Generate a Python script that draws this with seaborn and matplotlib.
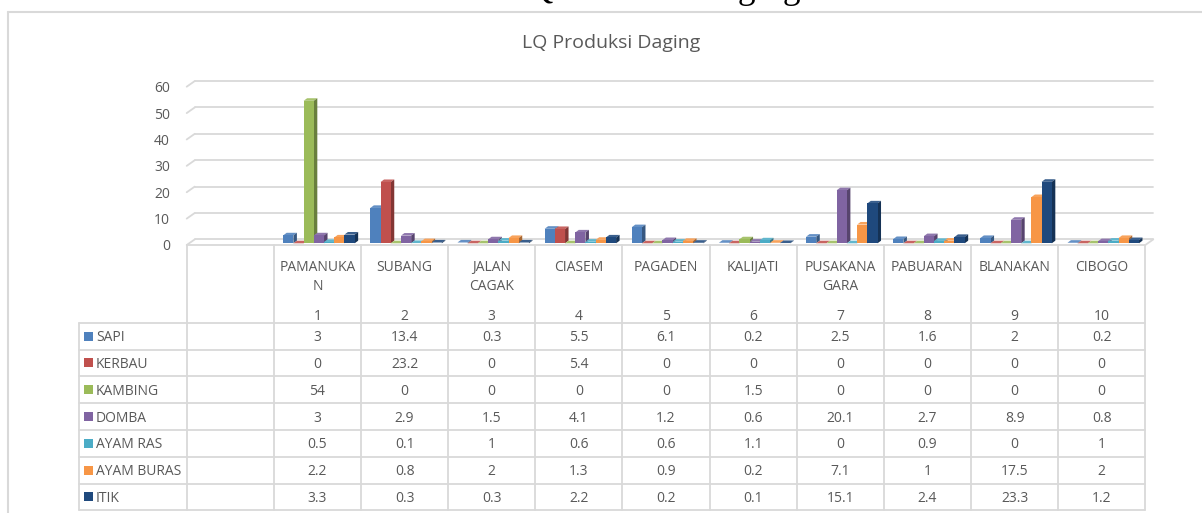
import numpy as np
import pandas as pd
import matplotlib
matplotlib.use("Agg")
import matplotlib.pyplot as plt
import seaborn as sns
from matplotlib import transforms as mtransforms
from matplotlib.patches import Polygon, Rectangle

# ---------------- data ----------------
districts = ["PAMANUKAN", "SUBANG", "JALAN CAGAK", "CIASEM", "PAGADEN",
             "KALIJATI", "PUSAKANAGARA", "PABUARAN", "BLANAKAN", "CIBOGO"]
header_labels = ["PAMANUKA\nN", "SUBANG", "JALAN\nCAGAK", "CIASEM", "PAGADEN",
                 "KALIJATI", "PUSAKANA\nGARA", "PABUARAN", "BLANAKAN", "CIBOGO"]
district_numbers = ["1", "2", "3", "4", "5", "6", "7", "8", "9", "10"]

series = ["SAPI", "KERBAU", "KAMBING", "DOMBA", "AYAM RAS", "AYAM BURAS", "ITIK"]
sapi = [3, 13.4, 0.3, 5.5, 6.1, 0.2, 2.5, 1.6, 2, 0.2]
kerbau = [0, 23.2, 0, 5.4, 0, 0, 0, 0, 0, 0]
kambing = [54, 0, 0, 0, 0, 1.5, 0, 0, 0, 0]
domba = [3, 2.9, 1.5, 4.1, 1.2, 0.6, 20.1, 2.7, 8.9, 0.8]
ayam_ras = [0.5, 0.1, 1, 0.6, 0.6, 1.1, 0, 0.9, 0, 1]
ayam_buras = [2.2, 0.8, 2, 1.3, 0.9, 0.2, 7.1, 1, 17.5, 2]
itik = [3.3, 0.3, 0.3, 2.2, 0.2, 0.1, 15.1, 2.4, 23.3, 1.2]
series_values = [sapi, kerbau, kambing, domba, ayam_ras, ayam_buras, itik]

colors = ["#4F81BD", "#C0504D", "#9BBB59", "#8064A2", "#4BACC6", "#F79646", "#1F497D"]
y_ticks = [0, 10, 20, 30, 40, 50, 60]
title = "LQ Produksi Daging"

# ---------------- style ----------------
sns.set_style("white")
plt.rcParams['font.family'] = ['Open Sans', 'DejaVu Sans']
TXT = "#595959"
GRID = "#D9D9D9"

W, H = 1202, 513
fig = plt.figure(figsize=(W / 100, H / 100), dpi=100)
fig.patch.set_facecolor("white")

ax_left, ax_right = 186.7, 1145.3
y0_px, ytop_px = 245.0, 86.7
ax = fig.add_axes([ax_left / W, (H - y0_px) / H,
                   (ax_right - ax_left) / W, (y0_px - ytop_px) / H])

rows = []
for name, vals in zip(series, series_values):
    for d, v in zip(districts, vals):
        rows.append({"district": d, "series": name, "lq": v})
df = pd.DataFrame(rows)

sns.barplot(data=df, x="district", y="lq", hue="series",
            order=[""] + districts, hue_order=series,
            palette=dict(zip(series, colors)), saturation=1,
            width=0.82, gap=0, errorbar=None, legend=False, ax=ax,
            linewidth=0)

ax.set_xlim(-0.5, 10.5)
ax.set_ylim(0, 60)
ax.set_yticks(y_ticks)
ax.set_yticklabels([str(t) for t in y_ticks])
ax.tick_params(axis="y", length=0, pad=12, labelsize=10, labelcolor=TXT)
ax.tick_params(axis="x", length=0, labelbottom=False)
ax.set_xlabel("")
ax.set_ylabel("")
for s in ax.spines.values():
    s.set_visible(False)
ax.patch.set_alpha(0)
ax.grid(False)

ident = mtransforms.IdentityTransform()

# back-wall gridlines (3D depth offset)
gdx, gdy = 8.0, 5.6
for v in y_ticks:
    ax.plot([0, 1], [v, v],
            transform=ax.get_yaxis_transform() + mtransforms.Affine2D().translate(gdx, gdy),
            color=GRID, lw=1.3, zorder=0.5, clip_on=False)
    fx, fy = ax.transData.transform((-0.5, v))
    ax.plot([fx, fx + gdx], [fy, fy + gdy], transform=ident,
            color=GRID, lw=1.3, zorder=0.5, clip_on=False)
rx, ry = ax.transData.transform((10.5, 0))
ax.plot([rx, rx + gdx], [ry, ry + gdy], transform=ident,
        color=GRID, lw=1.3, zorder=0.5, clip_on=False)

# 3D bars
bx, by = 1.5, 1.7
ddx, ddy = 3.5, 2.6


def shade(c, f):
    r, g, b = c[:3]
    return (r * f, g * f, b * f)


def lighten(c, f):
    r, g, b = c[:3]
    return (r + (1 - r) * f, g + (1 - g) * f, b + (1 - b) * f)


bars = [p for p in ax.patches if isinstance(p, Rectangle)]
for p in bars:
    x0, w, h = p.get_x(), p.get_width(), p.get_height()
    X0, Y0 = ax.transData.transform((x0, 0))
    X1, Y1 = ax.transData.transform((x0 + w, h))
    X0 += bx; X1 += bx; Y0 += by; Y1 += by
    p.set_transform(ax.transData + mtransforms.Affine2D().translate(bx, by))
    p.set_zorder(3)
    p.set_clip_on(False)
    fc = p.get_facecolor()
    top = Polygon([(X0, Y1), (X0 + ddx, Y1 + ddy), (X1 + ddx, Y1 + ddy), (X1, Y1)],
                  closed=True, transform=ident, facecolor=lighten(fc, 0.12),
                  edgecolor="none", zorder=2.5, clip_on=False)
    side = Polygon([(X1, Y0), (X1 + ddx, Y0 + ddy), (X1 + ddx, Y1 + ddy), (X1, Y1)],
                   closed=True, transform=ident, facecolor=shade(fc, 0.68),
                   edgecolor="none", zorder=2.5, clip_on=False)
    ax.add_patch(top)
    ax.add_patch(side)

# ---------------- overlay: border, titles, table ----------------
ov = fig.add_axes([0, 0, 1, 1])
ov.set_xlim(0, W)
ov.set_ylim(H, 0)
ov.axis("off")
ov.patch.set_alpha(0)

# outer chart border
ov.plot([8, 8], [12, H + 5], color=GRID, lw=1.5, clip_on=False)
ov.plot([8, W + 5], [12, 12], color=GRID, lw=1.5, clip_on=False)

# cropped caption above chart (only its lowest part is inside the picture)
ov.text(506, -2.5, title, family=["Liberation Serif", "DejaVu Serif"], fontsize=25.5,
        ha="left", va="baseline", color="black", clip_on=False)

# chart title
ov.text(611, 48.5, title, ha="center", va="baseline", fontsize=14, color=TXT)

# table geometry from the main axes' scale
col_edges = [ax.transData.transform((i - 0.5, 0))[0] for i in range(12)]
col_centers = [ax.transData.transform((i, 0))[0] for i in range(1, 11)]
table_top = H - ax.transData.transform((0, 0))[1]
header_bottom = 322.7
row_h = 26.8
n_rows = len(series)
table_bottom = header_bottom + n_rows * row_h
legend_left = 79.0
lw_t = 1.3

ov.plot([col_edges[0], col_edges[-1]], [table_top, table_top], color=GRID, lw=lw_t)
for k in range(n_rows + 1):
    yy = header_bottom + k * row_h
    ov.plot([legend_left, col_edges[-1]], [yy, yy], color=GRID, lw=lw_t)
for xe in col_edges:
    ov.plot([xe, xe], [table_top, table_bottom], color=GRID, lw=lw_t)
ov.plot([legend_left, legend_left], [header_bottom, table_bottom], color=GRID, lw=lw_t)

fs = 10
capoff = 5.0
# header
for cx, lab, num in zip(col_centers, header_labels, district_numbers):
    for j, line in enumerate(lab.split("\n")):
        ov.text(cx, 266 + j * 18.5 + capoff, line, ha="center", va="baseline",
                fontsize=fs, color=TXT)
    ov.text(cx, 315 + capoff, num, ha="center", va="baseline", fontsize=fs, color=TXT)

# body rows
for k, (name, vals, c) in enumerate(zip(series, series_values, colors)):
    cy = header_bottom + row_h * (k + 0.5)
    ov.add_patch(Rectangle((84, cy - 4.5), 9, 9, facecolor=c, edgecolor="none"))
    ov.text(96, cy + capoff, name, ha="left", va="baseline", fontsize=fs, color=TXT)
    for cx, v in zip(col_centers, vals):
        ov.text(cx, cy + capoff, f"{v:g}", ha="center", va="baseline",
                fontsize=fs, color=TXT)

fig.savefig("out.png", dpi=100)
